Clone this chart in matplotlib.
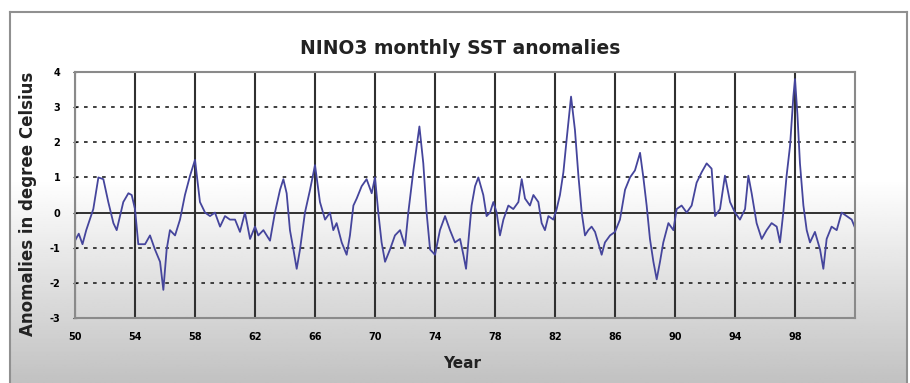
import numpy as np
import matplotlib.pyplot as plt

# NINO3 monthly SST anomalies
years = [1950.0, 1950.25, 1950.5, 1950.75, 1951.22, 1951.56, 1951.89, 1952.22, 1952.56, 1952.78,
         1953.0, 1953.22, 1953.56, 1953.78, 1954.0, 1954.22, 1954.67, 1955.0, 1955.33, 1955.67,
         1955.89, 1956.11, 1956.33, 1956.67, 1957.0, 1957.33, 1957.67, 1958.0, 1958.33, 1958.67,
         1959.0, 1959.33, 1959.67, 1960.0, 1960.33, 1960.67, 1961.0, 1961.33, 1961.67, 1962.0,
         1962.22, 1962.56, 1963.0, 1963.33, 1963.67, 1963.89, 1964.11, 1964.33, 1964.56, 1964.78,
         1965.0, 1965.33, 1965.67, 1966.0, 1966.33, 1966.67, 1967.0, 1967.22, 1967.44, 1967.78,
         1968.11, 1968.33, 1968.56, 1968.78, 1969.11, 1969.44, 1969.78, 1970.0, 1970.22, 1970.44,
         1970.67, 1971.0, 1971.33, 1971.67, 1972.0, 1972.22, 1972.56, 1972.78, 1972.96, 1973.22,
         1973.44, 1973.67, 1974.0, 1974.33, 1974.67, 1975.0, 1975.33, 1975.67, 1975.89, 1976.07,
         1976.22, 1976.44, 1976.67, 1976.89, 1977.22, 1977.44, 1977.67, 1977.89, 1978.11, 1978.33,
         1978.56, 1978.89, 1979.22, 1979.56, 1979.78, 1980.0, 1980.33, 1980.56, 1980.89, 1981.11,
         1981.33, 1981.56, 1981.89, 1982.11, 1982.33, 1982.56, 1982.78, 1983.07, 1983.33, 1983.56,
         1983.78, 1984.0, 1984.22, 1984.44, 1984.67, 1985.11, 1985.33, 1985.67, 1986.0, 1986.33,
         1986.67, 1987.0, 1987.33, 1987.67, 1987.89, 1988.11, 1988.33, 1988.56, 1988.78, 1989.0,
         1989.22, 1989.56, 1989.89, 1990.11, 1990.44, 1990.78, 1991.11, 1991.44, 1991.78, 1992.11,
         1992.44, 1992.67, 1993.0, 1993.33, 1993.67, 1994.0, 1994.33, 1994.67, 1994.89, 1995.11,
         1995.44, 1995.78, 1996.11, 1996.44, 1996.78, 1997.0, 1997.22, 1997.44, 1997.67, 1997.89,
         1998.0, 1998.16, 1998.33, 1998.56, 1998.78, 1999.0, 1999.33, 1999.67, 1999.89, 2000.11,
         2000.44, 2000.78, 2001.11, 2001.44, 2001.78, 2002.11]
anomaly = [-0.8, -0.6, -0.9, -0.5, 0.1, 1.0, 0.95, 0.3, -0.3, -0.5,
           -0.1, 0.3, 0.55, 0.5, 0.1, -0.9, -0.9, -0.65, -1.05, -1.4,
           -2.2, -1.05, -0.5, -0.65, -0.2, 0.5, 1.05, 1.5, 0.3, 0.0,
           -0.1, 0.0, -0.4, -0.1, -0.2, -0.2, -0.55, 0.0, -0.75, -0.4,
           -0.65, -0.5, -0.8, 0.0, 0.65, 0.95, 0.55, -0.5, -1.05, -1.6,
           -1.05, 0.0, 0.65, 1.35, 0.3, -0.2, 0.0, -0.5, -0.3, -0.85,
           -1.2, -0.65, 0.2, 0.4, 0.75, 0.95, 0.55, 1.0, 0.0, -0.85,
           -1.4, -1.05, -0.65, -0.5, -0.95, 0.0, 1.2, 1.9, 2.45, 1.4,
           0.0, -1.05, -1.2, -0.5, -0.1, -0.5, -0.85, -0.75, -1.2, -1.6,
           -0.85, 0.2, 0.75, 1.0, 0.5, -0.1, 0.0, 0.3, 0.0, -0.65,
           -0.2, 0.2, 0.1, 0.3, 0.95, 0.4, 0.2, 0.5, 0.3, -0.3,
           -0.5, -0.1, -0.2, 0.1, 0.5, 1.15, 2.1, 3.3, 2.35, 1.05,
           0.0, -0.65, -0.5, -0.4, -0.55, -1.2, -0.85, -0.65, -0.55, -0.2,
           0.65, 1.0, 1.2, 1.7, 1.0, 0.2, -0.75, -1.4, -1.9, -1.4,
           -0.85, -0.3, -0.5, 0.1, 0.2, 0.0, 0.2, 0.85, 1.15, 1.4,
           1.25, -0.1, 0.1, 1.05, 0.3, 0.0, -0.2, 0.1, 1.05, 0.55,
           -0.3, -0.75, -0.5, -0.3, -0.4, -0.85, 0.0, 1.05, 1.9, 3.3,
           3.8, 2.8, 1.4, 0.2, -0.5, -0.85, -0.55, -1.05, -1.6, -0.75,
           -0.4, -0.5, 0.0, -0.1, -0.2, -0.55]

tick_years = list(range(1950, 2002, 4))
tick_labels = [str(y)[2:] for y in tick_years]
y_ticks = list(range(-3, 5))

fig = plt.figure(figsize=(9.1, 3.83), dpi=100)

# chart area with white-to-grey gradient (excel style)
bg = fig.add_axes([10 / 910, 0, 897 / 910, 371 / 383], zorder=-2)
rows = np.linspace(0, 1, 200)
shade = np.interp(rows, [0, 0.45, 1], [1.0, 1.0, 0.76])
bg.imshow(shade[:, None] * np.ones((1, 2)), cmap='gray', vmin=0, vmax=1,
          aspect='auto', extent=[0, 1, 0, 1])
bg.set_xticks([])
bg.set_yticks([])
for side in ['top', 'left', 'right']:
    bg.spines[side].set_color('#909090')
    bg.spines[side].set_linewidth(1.5)
bg.spines['bottom'].set_visible(False)

ax = fig.add_axes([75 / 910, 65 / 383, 780 / 910, 246 / 383])
ax.patch.set_alpha(0)

# grid
for v in y_ticks:
    if v == 0:
        ax.axhline(v, color='#303030', lw=1.4, zorder=1)
    elif v not in (-3, 4):
        ax.axhline(v, color='#303030', lw=1.3, ls=(0, (2, 3)), zorder=1)
for yr in tick_years:
    ax.axvline(yr, color='#303030', lw=1.5, zorder=1)

ax.plot(years, anomaly, color='#45459c', lw=1.3, zorder=2)

ax.set_xlim(1950, 2002)
ax.set_ylim(-3, 4)
ax.set_xticks(tick_years)
ax.set_xticklabels(tick_labels, fontsize=7, fontweight='bold')
ax.set_yticks(y_ticks)
ax.set_yticklabels([str(v) for v in y_ticks], fontsize=7, fontweight='bold')
ax.tick_params(axis='x', length=0, pad=10)
ax.tick_params(axis='y', length=3, direction='inout', pad=9)
for side in ax.spines:
    ax.spines[side].set_color('#8a8a8a')
    ax.spines[side].set_linewidth(1.5)

fig.text(460 / 910, 1 - 49 / 383, 'NINO3 monthly SST anomalies', ha='center', va='center',
         fontsize=13.5, fontweight='bold', color='#222222')
fig.text(28 / 910, 1 - 204 / 383, 'Anomalies in degree Celsius', ha='center', va='center',
         rotation=90, fontsize=12, fontweight='bold', color='#222222')
fig.text(462 / 910, 1 - 363 / 383, 'Year', ha='center', va='center',
         fontsize=11, fontweight='bold', color='#222222')

plt.savefig('out.png', dpi=100)
